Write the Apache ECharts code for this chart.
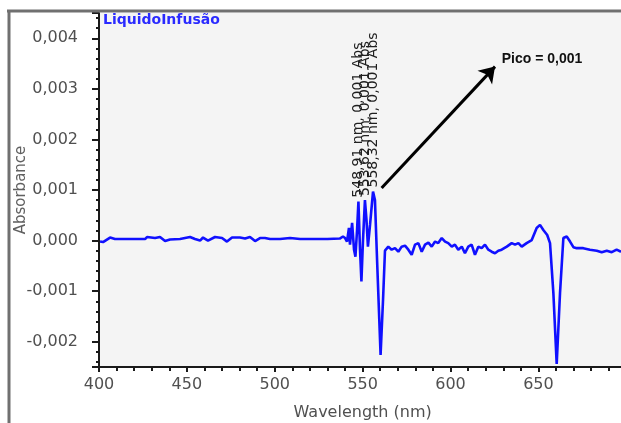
<!DOCTYPE html>
<html>
<head>
<meta charset="utf-8">
<script src="https://cdn.jsdelivr.net/npm/echarts@6/dist/echarts.min.js"></script>
<style>
html,body{margin:0;padding:0;background:#fff;}
#chart{width:621px;height:423px;}
</style>
</head>
<body>
<div id="chart"></div>
<script>
// ---- data ----
const wavelength = [
  400.6, 402.3, 406.3, 409.1, 417.6, 426.2, 427.3, 431.9, 434.7, 437.6,
  440.4, 446.1, 451.8, 454.6, 457.5, 459.2, 462.0, 466.0, 470.0, 472.8,
  475.7, 480.2, 483.1, 485.9, 488.8, 491.6, 494.4, 497.3, 503.0, 508.7,
  514.4, 520.0, 530.0, 537.0,
  538.8, 540.0, 541.1, 542.2, 542.8, 544.0, 545.1, 545.9, 546.8, 547.6,
  548.5, 549.3, 550.2, 551.3, 552.2, 553.0, 554.2, 555.9, 557.0, 558.2,
  560.2, 561.6, 562.7, 564.6,
  566.5, 568.4, 570.3, 572.2, 574.1, 576.0, 577.9, 579.8, 581.7, 583.6,
  585.5, 587.4, 589.3, 591.2, 593.0, 595.0, 596.9, 598.7, 600.7, 602.5,
  604.4, 606.4, 608.2, 610.1, 612.0, 613.9, 615.8, 617.7, 619.6, 621.5,
  623.4, 625.3, 627.2, 629.1, 632.0, 634.8, 636.7, 638.6, 640.5, 643.3,
  646.2, 649.0, 650.9, 652.8, 655.0, 656.6, 658.5, 660.4, 662.3, 664.2,
  666.1, 668.0, 669.9, 671.8, 675.5, 679.3, 683.2, 686.0, 688.9, 691.7,
  694.5, 697.0
];
const absorbance = [
  -0.00002, -0.00003, 0.00006, 0.00003, 0.00003, 0.00003, 0.00007, 0.00005, 0.00007, -0.00001,
  0.00002, 0.00003, 0.00007, 0.00003, 0.0, 0.00006, 0.0, 0.00007, 0.00005, -0.00002,
  0.00006, 0.00006, 0.00004, 0.00007, -0.00001, 0.00005, 0.00005, 0.00003, 0.00003, 0.00005,
  0.00003, 0.00003, 0.00003, 0.00004,
  0.00008, 0.00005, -0.00002, 0.00025, -0.00008, 0.00035, -0.00018, -0.00032, 0.0002, 0.00077,
  -0.00018, -0.00081, 0.00001, 0.0008, 0.0004, -0.00012, 0.00031, 0.00097, 0.0008, -0.00038,
  -0.00226, -0.00117, -0.0002, -0.00012,
  -0.00018, -0.00015, -0.00022, -0.00012, -0.0001, -0.00018, -0.00028, -0.00008, -0.00005, -0.00022,
  -0.00008, -0.00004, -0.00012, -0.00002, -0.00005, 0.00005, -0.00002, -0.00005, -0.00012, -0.00008,
  -0.00018, -0.00012, -0.00025, -0.00012, -0.00008, -0.00028, -0.00012, -0.00015, -0.00008, -0.00018,
  -0.00022, -0.00025, -0.0002, -0.00018, -0.00012, -0.00005, -0.00008, -0.00005, -0.00012, -0.00005,
  0.00001, 0.00025, 0.00031, 0.00021, 0.00011, -0.00005, -0.00103, -0.00244, -0.00103, 0.00005,
  0.00008, -0.00002, -0.00013, -0.00015, -0.00015, -0.00018, -0.0002, -0.00023, -0.0002, -0.00023,
  -0.00018, -0.00022
];
// peak annotations (index into the series, label text)
const peakIndex = [43, 47, 51];
const peakText = ['548,91 nm, 0,001 Abs', '553,62 nm, 0,001 Abs', '558,32 nm, 0,001 Abs'];
const arrowFrom = [560.8, 0.00104];
const arrowTo = [625.3, 0.00344];
const picoAt = [629.1, 0.00359];
const picoText = 'Pico = 0,001';
const titleText = 'LiquidoInfusão';
const xName = 'Wavelength (nm)';
const yName = 'Absorbance';

const seriesData = wavelength.map((w, i) => [w, absorbance[i]]);

const chart = echarts.init(document.getElementById('chart'), null, {renderer: 'canvas'});
const tickFont = {fontFamily: 'DejaVu Sans', fontSize: 16, color: '#505050'};

chart.setOption({
  animation: false,
  backgroundColor: '#ffffff',
  title: {
    text: titleText, left: 103, top: 13, padding: 0,
    textStyle: {fontFamily: 'DejaVu Sans', fontWeight: 'bold', fontSize: 14, color: '#2a2aff'}
  },
  grid: {
    left: 99, top: 13, right: -5.3, bottom: 56,
    outerBoundsMode: 'none', containLabel: false,
    show: true, backgroundColor: '#f4f4f4', borderWidth: 0
  },
  xAxis: {
    type: 'value', min: 400, max: 700, interval: 50,
    name: xName, nameLocation: 'middle', nameGap: 38, nameMoveOverlap: false,
    nameTextStyle: {fontFamily: 'DejaVu Sans', fontSize: 16, color: '#505050'},
    axisLine: {show: true, onZero: false, lineStyle: {color: '#1a1a1a', width: 2}},
    axisTick: {show: true, length: 5, lineStyle: {color: '#1a1a1a', width: 2}},
    minorTick: {show: true, splitNumber: 5, length: 4, lineStyle: {color: '#1a1a1a', width: 2}},
    splitLine: {show: false},
    axisLabel: Object.assign({margin: 10, formatter: v => (v < 700 ? String(v) : '')}, tickFont)
  },
  yAxis: {
    type: 'value', min: -0.0025, max: 0.0045,
    name: yName, nameLocation: 'middle', nameGap: 70, nameMoveOverlap: false,
    nameTextStyle: {fontFamily: 'DejaVu Sans', fontSize: 15, color: '#606060'},
    axisLine: {show: true, onZero: false, lineStyle: {color: '#1a1a1a', width: 2}},
    axisTick: {show: true, length: 7, lineStyle: {color: '#1a1a1a', width: 2}},
    minorTick: {show: true, splitNumber: 5, length: 3, lineStyle: {color: '#1a1a1a', width: 2}},
    splitLine: {show: false},
    axisLabel: Object.assign({
      margin: 21,
      formatter: v => {
        const k = v * 1000;
        if (Math.abs(k - Math.round(k)) > 1e-6) return '';
        return (Math.round(k) / 1000).toFixed(3).replace('.', ',');
      }
    }, tickFont)
  },
  series: [{
    type: 'line',
    data: seriesData,
    showSymbol: false,
    symbol: 'none',
    clip: true,
    lineStyle: {color: '#1010ff', width: 2.6},
    markPoint: {
      symbol: 'circle', symbolSize: 0, silent: true,
      data: peakIndex.map((idx, i) => ({
        coord: seriesData[idx],
        label: {
          show: true, formatter: peakText[i], position: 'top', distance: 4,
          rotate: 90, align: 'left', verticalAlign: 'middle',
          fontFamily: 'DejaVu Sans', fontSize: 14, color: '#202020'
        }
      })).concat([{
        coord: picoAt,
        label: {
          show: true, formatter: picoText, position: 'right', distance: 0,
          fontFamily: 'Liberation Sans', fontWeight: 'bold', fontSize: 14, color: '#111'
        }
      }])
    },
    markLine: {
      silent: true, symbol: ['none', 'arrow'], symbolSize: 15,
      label: {show: false},
      lineStyle: {color: '#000', width: 3, type: 'solid'},
      data: [[{coord: arrowFrom}, {coord: arrowTo}]]
    }
  }],
  graphic: [
    {type: 'line', z: 100, shape: {x1: 7, y1: 11, x2: 621, y2: 11}, style: {stroke: '#707070', lineWidth: 3}},
    {type: 'line', z: 100, shape: {x1: 9, y1: 10, x2: 9, y2: 423}, style: {stroke: '#707070', lineWidth: 3}}
  ]
});
</script>
</body>
</html>
